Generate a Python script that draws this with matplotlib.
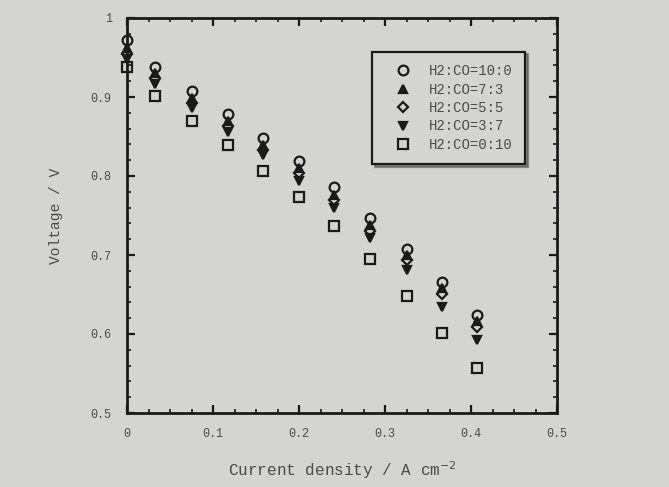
import numpy as np
import matplotlib.pyplot as plt
from matplotlib.ticker import MultipleLocator

# current density (A cm-2) and cell voltage (V)
current = [0.0, 0.033, 0.075, 0.117, 0.158, 0.200, 0.241, 0.283, 0.325, 0.366, 0.407]
v_10_0 = [0.972, 0.938, 0.908, 0.878, 0.848, 0.819, 0.786, 0.747, 0.708, 0.666, 0.624]
v_7_3 = [0.962, 0.930, 0.899, 0.869, 0.839, 0.810, 0.776, 0.738, 0.700, 0.658, 0.616]
v_5_5 = [0.955, 0.924, 0.893, 0.863, 0.833, 0.804, 0.770, 0.731, 0.694, 0.651, 0.609]
v_3_7 = [0.948, 0.916, 0.886, 0.856, 0.826, 0.794, 0.759, 0.722, 0.681, 0.634, 0.592]
v_0_10 = [0.938, 0.901, 0.869, 0.839, 0.806, 0.774, 0.737, 0.695, 0.648, 0.601, 0.557]

labels = ['H2:CO=10:0', 'H2:CO=7:3', 'H2:CO=5:5', 'H2:CO=3:7', 'H2:CO=0:10']
markers = ['o', '^', 'D', 'v', 's']
filled = [False, True, False, True, False]
sizes = [7, 6, 5, 6, 6.5]

bg = '#d4d4d0'
ink = '#1a1a1a'
txt = '#4a4a48'
mono = ['Liberation Mono', 'DejaVu Sans Mono']

fig = plt.figure(figsize=(6.69, 4.87), dpi=100, facecolor=bg)
ax = fig.add_axes([127 / 669, 1 - 413 / 487, 430 / 669, 395 / 487])
ax.set_facecolor(bg)

series = [v_10_0, v_7_3, v_5_5, v_3_7, v_0_10]
for v, lab, m, f, s in zip(series, labels, markers, filled, sizes):
    ax.plot(current, v, linestyle='none', marker=m, markersize=s,
            markeredgewidth=1.6, markeredgecolor=ink,
            markerfacecolor=ink if f else 'none', label=lab, clip_on=False)

ax.set_xlim(0, 0.5)
ax.set_ylim(0.5, 1.0)
ax.xaxis.set_minor_locator(MultipleLocator(0.025))
ax.yaxis.set_minor_locator(MultipleLocator(0.02))
ax.set_xticks([0, 0.1, 0.2, 0.3, 0.4, 0.5])
ax.set_xticklabels(['0', '0.1', '0.2', '0.3', '0.4', '0.5'])
ax.set_yticks([0.5, 0.6, 0.7, 0.8, 0.9, 1.0])
ax.set_yticklabels(['0.5', '0.6', '0.7', '0.8', '0.9', '1'])

ax.tick_params(which='both', direction='in', top=True, right=True,
               color=ink, labelsize=8.5, labelcolor=txt)
ax.tick_params(which='major', length=6, width=1.6, pad=11)
ax.tick_params(which='minor', length=3, width=1.2)
for lbl in ax.get_xticklabels() + ax.get_yticklabels():
    lbl.set_family(mono)
for sp in ax.spines.values():
    sp.set_linewidth(2)
    sp.set_color(ink)

ax.set_xlabel('Current density / A cm$^{-2}$', family=mono, fontsize=11.5,
              color=txt, labelpad=14)
ax.set_ylabel('Voltage / V', family=mono, fontsize=10.5, color=txt, labelpad=20)

leg = ax.legend(loc='upper right', bbox_to_anchor=(0.925, 0.915),
                prop={'family': mono, 'size': 10}, frameon=True, fancybox=False,
                shadow=True, handletextpad=0.55, borderpad=0.9,
                labelspacing=0.32, handlelength=2.6, borderaxespad=0)
leg.get_frame().set_edgecolor(ink)
leg.get_frame().set_linewidth(1.6)
leg.get_frame().set_facecolor(bg)
for t in leg.get_texts():
    t.set_color(txt)

fig.savefig('out.png', dpi=100, facecolor=bg)
